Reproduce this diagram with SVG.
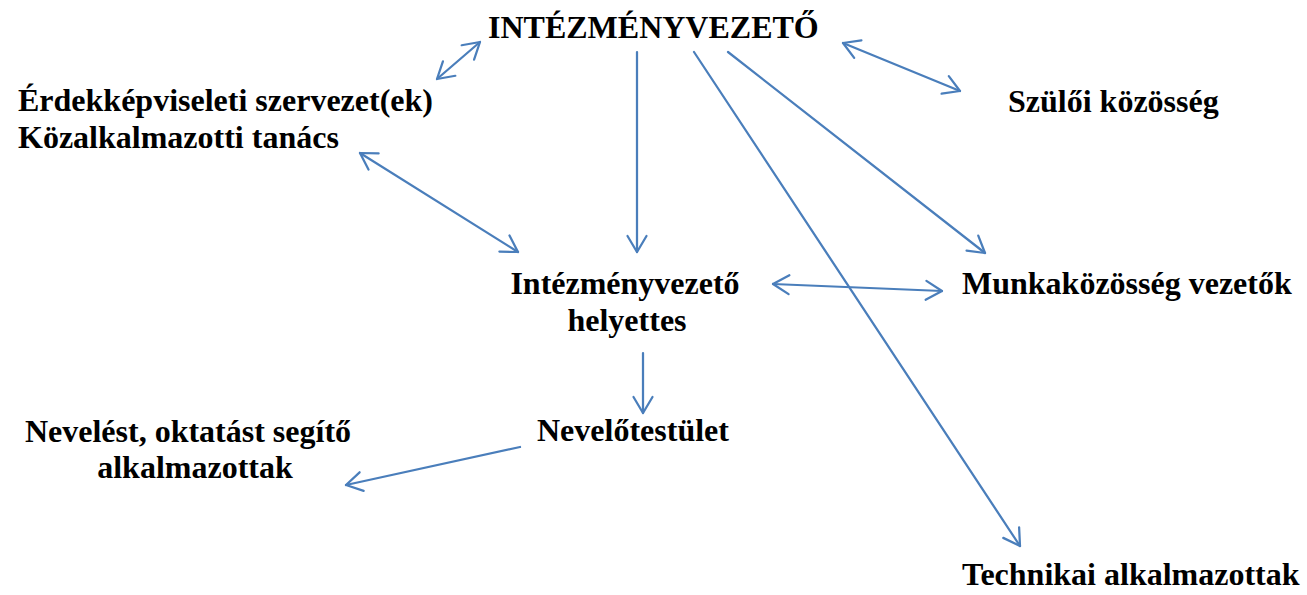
<svg xmlns="http://www.w3.org/2000/svg" width="1307" height="595" viewBox="0 0 1307 595">
<style>
text{font-family:"Liberation Serif","Times New Roman",serif;font-weight:bold;font-size:32px;fill:#000}
.c{text-anchor:middle}
.ln{stroke:#4a7ebb;stroke-width:2.25;fill:none;stroke-linecap:round;marker-end:url(#ah)}
.dbl{marker-start:url(#ah)}
</style>
<defs>
<marker id="ah" viewBox="-20 -12 24 24" refX="0" refY="0" markerWidth="24" markerHeight="24" markerUnits="userSpaceOnUse" orient="auto-start-reverse">
<path d="M-16,-9.5 L0,0 L-16,9.5" fill="none" stroke="#4a7ebb" stroke-width="2.25" stroke-linecap="round" stroke-linejoin="round"/>
</marker>
</defs>
<rect width="1307" height="595" fill="#fff"/>
<g id="n-intezmenyvezeto"><text x="488" y="38">INTÉZMÉNYVEZETŐ</text></g>
<g id="n-erdek"><text x="18" y="111">Érdekképviseleti szervezet(ek)</text><text x="18" y="148">Közalkalmazotti tanács</text></g>
<g id="n-szuloi"><text x="1008" y="112">Szülői közösség</text></g>
<g id="n-helyettes"><text class="c" x="625" y="294">Intézményvezető</text><text class="c" x="627" y="331">helyettes</text></g>
<g id="n-munkakozosseg"><text x="962" y="294">Munkaközösség vezetők</text></g>
<g id="n-nevelotestulet"><text x="537" y="441">Nevelőtestület</text></g>
<g id="n-neveles"><text class="c" x="188" y="442">Nevelést, oktatást segítő</text><text class="c" x="195" y="478">alkalmazottak</text></g>
<g id="n-technikai"><text x="962" y="585">Technikai alkalmazottak</text></g>
<g id="connectors">
<line class="ln dbl" x1="437" y1="79" x2="480" y2="42"/>
<line class="ln dbl" x1="360" y1="153" x2="518" y2="252"/>
<line class="ln" x1="637" y1="52" x2="637" y2="252"/>
<line class="ln" x1="694" y1="52" x2="1020" y2="546"/>
<line class="ln" x1="728" y1="52" x2="985" y2="253"/>
<line class="ln dbl" x1="843" y1="43" x2="960" y2="91"/>
<line class="ln dbl" x1="773" y1="284" x2="942" y2="291"/>
<line class="ln" x1="643" y1="353" x2="643" y2="413"/>
<line class="ln" x1="520" y1="447" x2="346" y2="485"/>
</g>
</svg>
